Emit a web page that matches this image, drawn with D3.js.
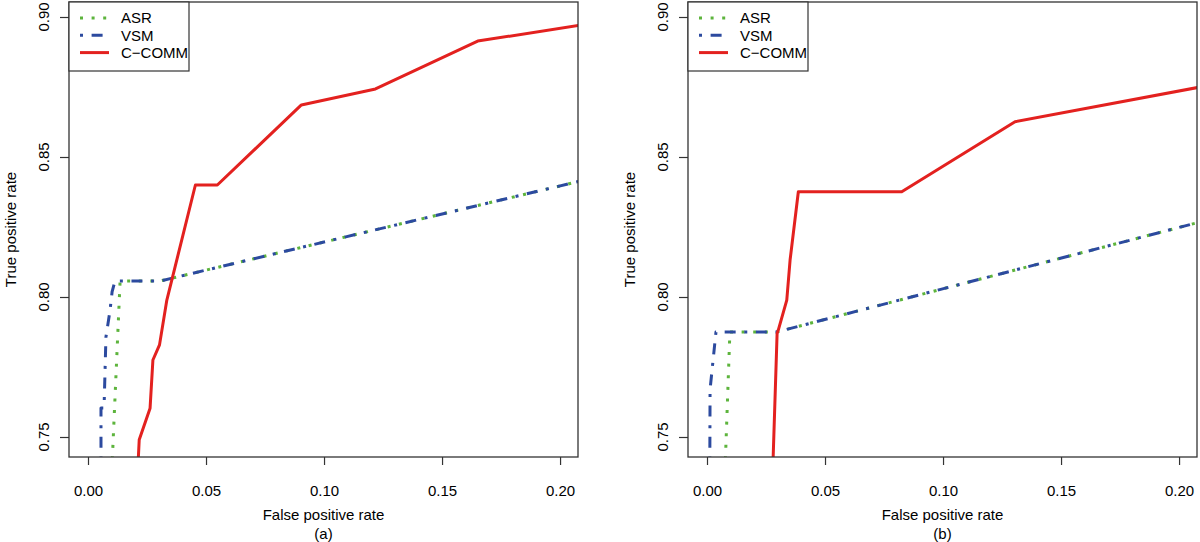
<!DOCTYPE html>
<html>
<head>
<meta charset="utf-8">
<script src="https://cdn.jsdelivr.net/npm/d3@7"></script>
<style>
  html, body { margin: 0; padding: 0; background: #ffffff; }
  svg { display: block; }
  text { font-family: "Liberation Sans", Arial, Helvetica, sans-serif; fill: #000; }
</style>
</head>
<body>
<svg id="chart" width="1200" height="542"></svg>
<script>
// ---------- data ----------
const xTicks = [0, 0.05, 0.10, 0.15, 0.20];
const yTicks = [0.75, 0.80, 0.85, 0.90];
const seriesNames = ["ASR", "VSM", "C\u2212COMM"];
const panelLabels = ["(a)", "(b)"];
const xTitle = "False positive rate";
const yTitle = "True positive rate";

// panel (a)
const asrA_fpr  = [0.0103, 0.0136, 0.0305, 1];
const asrA_tpr  = [0.742, 0.8057, 0.8057, 1];
const vsmA_fpr  = [0.0055, 0.0055, 0.0068, 0.0076, 0.0093, 0.0102, 0.0114, 0.0305, 1];
const vsmA_tpr  = [0.742, 0.7604, 0.7604, 0.7857, 0.795, 0.8018, 0.8057, 0.8057, 1];
const commA_fpr = [0.0213, 0.0217, 0.0263, 0.0275, 0.0303, 0.0334, 0.0455, 0.0548, 0.0904, 0.1218, 0.1651, 1];
const commA_tpr = [0.742, 0.749, 0.7603, 0.7775, 0.7829, 0.7989, 0.840, 0.840, 0.8686, 0.8743, 0.8914, 1];

// panel (b)
const asrB_fpr  = [0.0078, 0.0097, 0.0295, 1];
const asrB_tpr  = [0.742, 0.7875, 0.7875, 1];
const vsmB_fpr  = [0.0012, 0.0013, 0.0038, 0.0295, 1];
const vsmB_tpr  = [0.742, 0.767, 0.7875, 0.7875, 1];
const commB_fpr = [0.0280, 0.0297, 0.0302, 0.0338, 0.0352, 0.0387, 0.0825, 0.1305, 1];
const commB_tpr = [0.742, 0.787, 0.7882, 0.7989, 0.8132, 0.8376, 0.8376, 0.8626, 1];

// ---------- styles ----------
const colors = ["#5db43c", "#2c4a9f", "#e3211f"];
const dashes = ["3 8.6", "3 8.6 11 8.6", null];

const svg = d3.select("#chart");
svg.append("rect").attr("width", 1200).attr("height", 542).attr("fill", "#fff");

const zip = (xs, ys) => xs.map((v, i) => [v, ys[i]]);

function drawPanel(idx, offsetX, series) {
  const left = 69 + offsetX, right = 578 + offsetX, top = 2, bottom = 457;
  const x = d3.scaleLinear().domain([-0.00805, 0.2076]).range([left, right]);
  const y = d3.scaleLinear().domain([0.742857, 0.905357]).range([bottom, top]);

  const g = svg.append("g");
  const clipId = "clip" + idx;
  g.append("clipPath").attr("id", clipId)
    .append("rect").attr("x", left).attr("y", top)
    .attr("width", right - left).attr("height", bottom - top);

  const line = d3.line().x(d => x(d[0])).y(d => y(d[1]));
  const lines = g.append("g").attr("clip-path", `url(#${clipId})`);
  series.forEach((s, i) => {
    lines.append("path")
      .attr("d", line(s))
      .attr("fill", "none")
      .attr("stroke", colors[i])
      .attr("stroke-width", 3)
      .attr("stroke-linejoin", "round")
      .attr("stroke-dasharray", dashes[i]);
  });

  // x axis
  const xAxis = d3.axisBottom(x).tickValues(xTicks).tickSize(8).tickPadding(20)
    .tickFormat(d3.format(".2f"));
  const gx = g.append("g").attr("transform", `translate(0,${bottom})`).call(xAxis);
  gx.select(".domain").remove();
  gx.selectAll(".tick line").attr("stroke", "#333").attr("stroke-width", 1.2);
  gx.selectAll(".tick text").attr("font-size", 15).attr("font-family", "Liberation Sans, Arial, sans-serif").attr("fill", "#000");

  // y axis
  const yAxis = d3.axisLeft(y).tickValues(yTicks).tickSize(9).tickFormat("");
  const gy = g.append("g").attr("transform", `translate(${left},0)`).call(yAxis);
  gy.select(".domain").remove();
  gy.selectAll(".tick line").attr("stroke", "#333").attr("stroke-width", 1.2);
  g.selectAll(".ylab").data(yTicks).enter().append("text")
    .attr("transform", d => `translate(${left - 20.5},${y(d)}) rotate(-90)`)
    .attr("text-anchor", "middle")
    .attr("font-size", 15)
    .text(d3.format(".2f"));

  // box
  g.append("rect").attr("x", left).attr("y", top)
    .attr("width", right - left).attr("height", bottom - top)
    .attr("fill", "none").attr("stroke", "#333").attr("stroke-width", 1.3);

  // titles
  const cx = (left + right) / 2;
  g.append("text").attr("x", cx).attr("y", 520).attr("text-anchor", "middle")
    .attr("font-size", 15).text(xTitle);
  g.append("text").attr("x", cx).attr("y", 539).attr("text-anchor", "middle")
    .attr("font-size", 15).text(panelLabels[idx]);
  g.append("text")
    .attr("transform", `translate(${left - 53.5},${(top + bottom) / 2}) rotate(-90)`)
    .attr("text-anchor", "middle").attr("font-size", 15).text(yTitle);

  // legend
  const lg = g.append("g");
  lg.append("rect").attr("x", left).attr("y", top).attr("width", 120).attr("height", 69)
    .attr("fill", "#fff").attr("stroke", "#333").attr("stroke-width", 1.2);
  seriesNames.forEach((name, i) => {
    const ly = 18 + i * 17.3;
    lg.append("line").attr("x1", left + 11).attr("x2", left + 40)
      .attr("y1", ly).attr("y2", ly)
      .attr("stroke", colors[i]).attr("stroke-width", 3)
      .attr("stroke-dasharray", dashes[i]);
    lg.append("text").attr("x", left + 52).attr("y", ly + 5.3)
      .attr("font-size", 15).text(name);
  });
}

drawPanel(0, 0, [zip(asrA_fpr, asrA_tpr), zip(vsmA_fpr, vsmA_tpr), zip(commA_fpr, commA_tpr)]);
drawPanel(1, 619, [zip(asrB_fpr, asrB_tpr), zip(vsmB_fpr, vsmB_tpr), zip(commB_fpr, commB_tpr)]);
</script>
</body>
</html>
